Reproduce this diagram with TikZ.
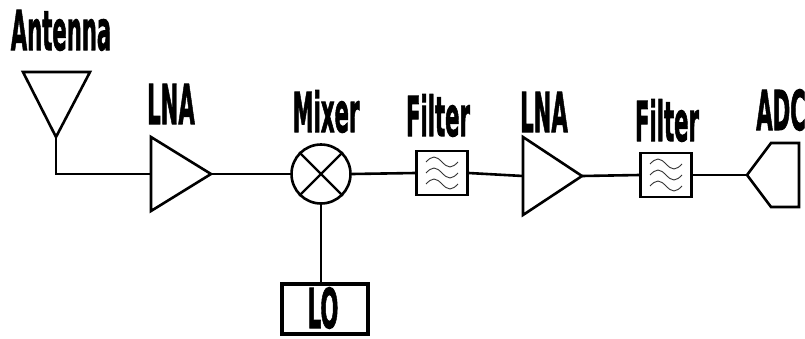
\documentclass[tikz,border=0pt]{standalone}
\usepackage{fontspec}
\setmainfont{DejaVu Sans}
\newfontfamily\lblfont{DejaVu Sans Bold}[FakeBold=2]
\usepackage{graphicx}
\newcommand{\lbl}[1]{\scalebox{0.385}[1]{\fontsize{55}{55}\selectfont\lblfont #1}}
\begin{document}
\begin{tikzpicture}[x=1pt,y=-1pt,line join=miter]
\tikzset{
  wire/.style={line width=2.6pt},
  shapeline/.style={line width=2.6pt},
  filterbox/.style={draw,line width=2.4pt,rectangle,minimum width=51pt,minimum height=44pt,inner sep=0pt},
  wave/.style={line width=0.9pt,draw=black!80},
  label/.style={anchor=base,inner sep=0pt},
}
\useasboundingbox (0,0) rectangle (805,338);
% Antenna
\draw[shapeline] (23,72) -- (90,72) -- (56,137) -- cycle;
\coordinate (ant) at (56,137);
\coordinate (bend) at (56,174);
% LNA 1
\draw[shapeline] (151,137) -- (211,174) -- (151,211) -- cycle;
\coordinate (lna1in) at (151,174);
\coordinate (lna1out) at (211,174);
% Mixer
\node[circle,draw,line width=2.6pt,minimum size=59pt,inner sep=0pt] (mix) at (321,174) {};
\draw[line width=2.4pt] (mix.north west) -- (mix.south east) (mix.north east) -- (mix.south west);
% Filter 1
\node[filterbox] (f1) at (442,173) {};
% LNA 2
\draw[shapeline] (523,137) -- (582,176) -- (523,215) -- cycle;
\coordinate (lna2in) at (523,176);
\coordinate (lna2out) at (582,176);
% Filter 2
\node[filterbox] (f2) at (666,175) {};
% ADC
\draw[shapeline] (747,175) -- (771,143) -- (799,143) -- (799,207) -- (771,207) -- cycle;
\coordinate (adc) at (747,175);
% LO
\node[draw,line width=3.6pt,rectangle,minimum width=86pt,minimum height=50pt,inner sep=0pt] (lo) at (325,309) {};
% waves
\foreach \f in {f1,f2}{
  \foreach \dy in {-11,0,11}{
    \draw[wave] ([xshift=-16pt,yshift=-\dy pt]\f.center) sin ++(8,-5) cos ++(8,5) sin ++(8,5) cos ++(8,-5);
  }
}
% connectors
\draw[wire] (ant) -- (bend) -- (lna1in);
\draw[wire] (lna1out) -- (mix.west);
\draw[wire] (mix.east) -- (f1.west);
\draw[wire] (f1.east) -- (lna2in);
\draw[wire] (lna2out) -- (f2.west);
\draw[wire] (f2.east) -- (adc);
\draw[wire] (mix.south) -- (mix.south |- lo.north);
% labels
\node[label] (tant) at (61,50) {\lbl{Antenna}};
\node[label] (tlna1) at (171,124) {\lbl{LNA}};
\node[label] (tmix) at (326,132) {\lbl{Mixer}};
\node[label] (tf1) at (438,136) {\lbl{Filter}};
\node[label] (tlna2) at (544,132) {\lbl{LNA}};
\node[label] (tf2) at (667,141) {\lbl{Filter}};
\node[label] (tadc) at (781,130) {\lbl{ADC}};
\node[label] (tlo) at (323,328) {\lbl{LO}};
\end{tikzpicture}
\end{document}
